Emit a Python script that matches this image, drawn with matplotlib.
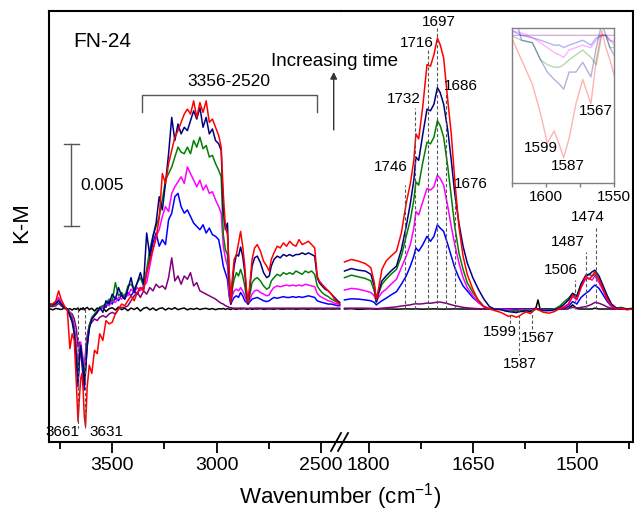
import numpy as np
import matplotlib.pyplot as plt
from matplotlib.ticker import MultipleLocator
from matplotlib.lines import Line2D

plt.rcParams['font.family'] = ['Liberation Sans', 'DejaVu Sans']
plt.rcParams['mathtext.default'] = 'regular'

# spectra, values in units of 1e-3 K-M
# left part (3800-2410 cm-1)
wn_l = [3800, 3785, 3770, 3757, 3745, 3730, 3715, 3703, 3692, 3682,
        3672, 3664, 3658, 3651, 3645, 3639, 3634, 3628, 3620, 3610,
        3598, 3585, 3572, 3560,
        3545, 3530, 3515, 3500, 3485, 3470, 3455, 3440, 3425, 3410,
        3395, 3380, 3365, 3350, 3335, 3320, 3305, 3290, 3275, 3260,
        3245, 3230, 3215, 3200, 3185, 3170, 3155, 3140, 3125, 3110,
        3095, 3080, 3065, 3050, 3035, 3020, 3005, 2990, 2978, 2968,
        2958, 2948, 2940, 2932, 2925, 2916, 2905, 2895, 2885, 2875,
        2865, 2857, 2849, 2840, 2830, 2818, 2805, 2790, 2775, 2760,
        2748, 2738, 2725, 2710, 2695, 2680, 2665, 2650, 2635, 2620,
        2605, 2590, 2575, 2560, 2545, 2530, 2518, 2508, 2495, 2480,
        2465, 2450, 2435, 2420, 2410]

black_l = [0.02, -0.05, 0.04, 0.0, -0.03, 0.05, -0.04, 0.02, -0.06, 0.03,
           -0.02, 0.06, -0.1, 0.04, -0.03, 0.08, -0.05, 0.03, 0.1, -0.04,
           0.05, -0.12, 0.06, -0.03,
           0.1, -0.15, 0.02, 0.08, -0.06, 0.12, -0.04, 0.05, -0.1, 0.06,
           -0.03, 0.08, -0.12, 0.04, 0.1, -0.05, 0.06, -0.08, 0.03, 0.07,
           -0.06, 0.05, -0.02, 0.08, -0.04, 0.02, 0.06, -0.05, 0.03, -0.02,
           0.05, -0.03, 0.02, 0.04, -0.02, 0.03, -0.04, 0.02, 0.0, 0.03,
           -0.02, 0.02, 0.0, -0.03, 0.02, 0.01, -0.02, 0.02, 0.0, 0.01,
           0.02, -0.01, 0.0, 0.02, -0.02, 0.01, 0.0, 0.02, -0.01, 0.0,
           0.01, 0.0, -0.01, 0.02, 0.0, -0.01, 0.01, 0.0, 0.01, -0.01,
           0.0, 0.01, 0.0, -0.01, 0.01, 0.0, 0.0, 0.01, 0.0, 0.0,
           0.01, 0.0, 0.0, 0.01, 0.0]

purple_l = [0.15, 0.15, 0.2, 0.35, 0.2, 0.05, 0.0, -0.2, -0.3, -0.6,
            -1.2, -2.3, -2.0, -2.6, -3.4, -4.2, -3.8, -2.6, -1.6, -1.0,
            -0.8, -0.6, -0.7, -0.5,
            -0.4, -0.5, -0.3, -0.2, -0.3, 0.0, 0.1, 0.1, 0.2, 0.5,
            0.8, 1.0, 0.7, 1.1, 0.9, 1.3, 1.1, 1.5, 1.3, 1.4,
            1.2, 1.9, 3.1, 1.7, 2.0, 1.5, 2.0, 1.8, 2.2, 1.4,
            1.6, 1.1, 1.0, 0.9, 0.8, 0.7, 0.6, 0.45, 0.35, 0.3,
            0.2, 0.15, 0.1, 0.08, 0.06, 0.05, 0.05, 0.05, 0.06, 0.05,
            0.05, 0.04, 0.04, 0.05, 0.05, 0.05, 0.06, 0.05, 0.05, 0.05,
            0.05, 0.05, 0.05, 0.05, 0.05, 0.05, 0.05, 0.05, 0.05, 0.05,
            0.05, 0.05, 0.05, 0.05, 0.05, 0.05, 0.05, 0.05, 0.05, 0.05,
            0.05, 0.05, 0.05, 0.05, 0.05]

blue_l = [0.3, 0.25, 0.35, 0.6, 0.35, 0.1, 0.0, -0.4, -0.7, -1.3,
          -3.0, -4.7, -3.2, -2.4, -3.1, -3.7, -4.9, -3.6, -2.3, -1.1,
          -0.6, -0.4, -0.2, 0.0,
          0.2, 0.1, 0.5, 0.3, 0.7, 0.5, 0.9, 0.6, 1.0, 0.8,
          1.1, 0.9, 1.3, 1.2, 2.2, 3.1, 4.0, 4.6, 3.8, 4.2,
          3.9, 5.4, 5.8, 6.8, 7.0, 6.2, 5.8, 6.0, 5.6, 5.2,
          5.0, 4.8, 5.1, 4.6, 4.9, 4.5, 4.4, 4.2, 3.4, 2.6,
          2.2, 1.8, 0.8, 0.3, 0.5, 0.7, 0.8, 0.7, 1.0, 0.8,
          0.5, 0.4, 0.3, 0.45, 0.6, 0.65, 0.7, 0.6, 0.5, 0.45,
          0.5, 0.6, 0.7, 0.65, 0.7, 0.75, 0.7, 0.7, 0.75, 0.7,
          0.75, 0.7, 0.75, 0.8, 0.75, 0.7, 0.5, 0.45, 0.4, 0.35,
          0.3, 0.3, 0.25, 0.2, 0.2]

magenta_l = [0.2, 0.3, 0.4, 0.7, 0.4, 0.1, 0.0, -0.2, -0.5, -1.0,
             -2.2, -3.4, -2.6, -2.0, -2.6, -3.0, -3.5, -2.9, -1.8, -1.0,
             -0.6, -0.4, -0.2, 0.0,
             0.1, 0.3, 0.2, 0.5, 0.4, 0.7, 0.6, 0.9, 0.8, 1.2,
             1.0, 1.3, 1.1, 1.4, 1.6, 2.6, 3.6, 4.4, 4.8, 5.6,
             6.2, 5.9, 7.0, 7.4, 7.7, 8.0, 7.6, 8.6, 8.2, 7.8,
             7.4, 7.8, 7.2, 7.5, 7.0, 7.1, 6.6, 6.2, 5.8, 3.8,
             3.1, 2.6, 1.0, 0.3, 0.8, 1.1, 1.2, 1.1, 1.3, 1.1,
             0.8, 0.5, 0.3, 0.6, 0.9, 1.1, 1.15, 1.0, 0.9, 0.8,
             0.85, 1.1, 1.3, 1.4, 1.35, 1.4, 1.45, 1.4, 1.45, 1.4,
             1.45, 1.4, 1.5, 1.45, 1.4, 1.35, 0.95, 0.8, 0.7, 0.6,
             0.5, 0.45, 0.35, 0.3, 0.25]

green_l = [0.2, 0.25, 0.3, 0.5, 0.3, 0.1, 0.0, -0.3, -0.6, -1.3,
           -2.6, -4.2, -3.0, -2.3, -2.9, -3.4, -4.1, -3.4, -2.0, -1.0,
           -0.5, -0.3, -0.1, 0.1,
           0.2, 0.3, 0.6, 0.5, 1.6, 0.8, 1.0, 0.7, 1.4, 1.5,
           1.2, 1.6, 1.9, 1.4, 2.4, 3.6, 4.4, 5.0, 5.6, 6.6,
           7.8, 8.2, 8.6, 9.2, 9.8, 9.5, 9.4, 9.8, 9.4, 10.2,
           9.8, 10.4, 9.7, 9.9, 9.2, 9.3, 8.8, 8.4, 8.0, 4.5,
           3.6, 3.3, 1.5, 0.4, 1.2, 1.8, 2.2, 2.0, 2.4, 2.0,
           1.4, 0.7, 0.3, 0.9, 1.6, 1.8, 1.9, 1.7, 1.4, 1.2,
           1.3, 1.7, 1.9, 2.1, 2.0, 2.2, 2.1, 2.2, 2.1, 2.3,
           2.2, 2.1, 2.3, 2.2, 2.3, 2.1, 1.4, 1.2, 1.0, 0.85,
           0.75, 0.6, 0.5, 0.4, 0.3]

navy_l = [0.3, 0.25, 0.35, 0.5, 0.3, 0.1, 0.0, -0.4, -0.8, -1.5,
          -3.0, -4.4, -3.0, -2.2, -3.0, -3.5, -4.6, -3.8, -2.2, -1.2,
          -0.6, -0.4, -0.2, 0.1,
          -0.2, 0.5, 0.3, 0.9, 0.6, 1.3, 0.8, 0.6, 1.2, 1.9,
          1.0, 1.6, 2.2, 1.5, 4.6, 3.2, 4.4, 5.2, 6.8, 6.0,
          7.6, 9.4, 11.6, 10.2, 11.2, 10.6, 11.0, 10.8, 11.4, 12.0,
          11.5, 12.2, 11.0, 11.6, 10.6, 10.9, 10.2, 10.0, 9.6, 6.0,
          4.8, 5.2, 2.0, 0.3, 1.5, 2.6, 3.3, 3.2, 3.75, 3.2,
          2.2, 1.0, 0.3, 1.4, 2.6, 3.1, 3.2, 2.8, 2.2, 1.9,
          2.0, 2.6, 3.0, 3.2, 3.1, 3.3, 3.2, 3.3, 3.2, 3.3,
          3.3, 3.4, 3.3, 3.4, 3.3, 3.2, 1.9, 1.6, 1.4, 1.2,
          1.1, 0.9, 0.7, 0.5, 0.4]

red_l = [0.3, 0.3, 0.5, 1.1, 0.6, 0.2, -0.1, -2.4, -1.5, -1.9,
         -4.5, -6.8, -5.5, -4.2, -3.9, -5.0, -6.5, -7.1, -4.7, -3.4,
         -3.9, -2.5, -2.7, -1.5,
         -1.9, -0.7, -0.9, -0.8, -0.3, 0.0, 0.3, 0.2, 0.5, 0.8,
         0.5, 1.0, 1.3, 1.1, 2.2, 2.9, 3.6, 4.3, 5.5, 8.2,
         7.6, 8.8, 9.6, 10.4, 10.8, 11.3, 11.8, 12.1, 11.8, 12.6,
         11.6, 12.5, 11.9, 12.6, 11.3, 11.5, 11.0, 10.5, 9.8, 7.0,
         5.0, 4.5, 2.4, 0.4, 1.8, 3.0, 3.3, 4.0, 4.7, 3.8,
         2.6, 1.2, 0.4, 1.6, 3.0, 3.7, 3.9, 3.5, 2.9, 2.6,
         2.3, 3.0, 3.4, 3.8, 3.7, 4.0, 3.8, 4.1, 3.9, 3.8,
         4.2, 3.9, 4.0, 4.1, 3.9, 3.7, 2.0, 1.7, 1.5, 1.3,
         1.1, 0.9, 0.6, 0.4, 0.3]

# right part (1835-1420 cm-1)
wn_r = [1835, 1825, 1815, 1805, 1797, 1792, 1789, 1786, 1781, 1775,
        1768, 1760, 1753, 1746, 1740, 1735, 1732, 1728, 1722, 1716,
        1711, 1706, 1701, 1697, 1692, 1686, 1681, 1676, 1670, 1664,
        1658, 1650, 1642, 1634, 1626, 1618, 1610, 1604, 1599, 1594,
        1590, 1587, 1583, 1578, 1573, 1567, 1563, 1559, 1556, 1553,
        1548, 1540, 1532, 1524, 1518, 1512, 1506, 1500, 1494, 1487,
        1482, 1478, 1474, 1468, 1462, 1456, 1450, 1443, 1436, 1428,
        1420]

black_r = [0.0, 0.02, -0.02, 0.0, 0.01, 0.0, -0.01, 0.0, 0.01, 0.0,
           0.0, -0.01, 0.0, 0.01, 0.0, 0.0, 0.01, 0.0, -0.01, 0.0,
           0.0, 0.01, 0.0, 0.0, -0.01, 0.0, 0.0, 0.01, 0.0, 0.0,
           0.0, 0.0, 0.0, 0.0, 0.0, 0.0, 0.0, 0.0, 0.0, 0.0,
           0.0, 0.0, 0.0, 0.0, 0.0, 0.0, 0.0, 0.05, 0.55, 0.0,
           0.0, 0.0, 0.0, 0.0, 0.0, 0.02, 0.25, 0.02, 0.0, 0.0,
           0.0, 0.0, 0.05, 0.0, 0.0, 0.0, 0.0, 0.0, 0.0, 0.0,
           0.0]

purple_r = [0.05, 0.05, 0.05, 0.05, 0.04, 0.03, 0.02, 0.03, 0.05, 0.07,
            0.1, 0.13, 0.18, 0.22, 0.25, 0.3, 0.32, 0.3, 0.32, 0.36,
            0.35, 0.38, 0.42, 0.42, 0.38, 0.32, 0.26, 0.2, 0.15, 0.1,
            0.07, 0.04, 0.02, 0.01, 0.0, 0.0, 0.0, 0.0, 0.0, 0.0,
            0.0, 0.0, 0.0, 0.0, 0.0, 0.0, 0.0, 0.0, 0.0, 0.0,
            0.0, 0.0, 0.0, 0.0, 0.02, 0.04, 0.1, 0.06, 0.1, 0.15,
            0.22, 0.3, 0.4, 0.35, 0.25, 0.12, 0.04, 0.0, 0.0, 0.0,
            0.0]

blue_r = [0.55, 0.62, 0.6, 0.55, 0.5, 0.4, 0.25, 0.35, 0.5, 0.65,
          0.85, 1.05, 1.5, 2.0, 2.6, 3.2, 3.7, 3.5, 3.9, 4.4,
          4.1, 4.4, 5.1, 4.9, 4.7, 3.9, 3.2, 2.5, 1.9, 1.4,
          1.1, 0.7, 0.4, 0.15, 0.02, 0.0, -0.01, -0.02, -0.03, -0.04,
          -0.04, -0.05, -0.04, -0.03, -0.02, -0.04, -0.01, 0.0, 0.0, -0.02,
          -0.03, -0.02, 0.0, 0.03, 0.08, 0.15, 0.45, 0.3, 0.7, 0.95,
          1.1, 1.3, 1.45, 1.25, 0.85, 0.45, 0.15, 0.02, 0.04, 0.0,
          0.0]

magenta_r = [1.15, 1.25, 1.2, 1.1, 1.0, 0.8, 0.45, 0.7, 1.0, 1.2,
             1.5, 1.8, 2.5, 3.2, 3.9, 4.9, 5.9, 5.7, 6.5, 7.3,
             7.2, 7.4, 8.1, 7.9, 7.5, 6.2, 5.0, 3.9, 2.8, 1.9,
             1.3, 0.8, 0.4, 0.15, 0.02, 0.01, -0.01, -0.03, -0.05, -0.07,
             -0.08, -0.09, -0.06, -0.05, -0.04, -0.05, -0.02, 0.0, 0.0, -0.02,
             -0.05, -0.05, 0.0, 0.05, 0.15, 0.3, 0.75, 0.55, 1.3, 1.85,
             1.85, 1.75, 2.0, 1.6, 1.1, 0.55, 0.2, 0.03, 0.05, 0.0,
             0.0]

green_r = [1.9, 2.05, 1.95, 1.85, 1.7, 1.1, 0.4, 0.9, 1.5, 1.8,
           2.1, 2.4, 3.2, 4.4, 5.4, 6.6, 7.7, 7.5, 8.9, 10.1,
           10.0, 10.4, 11.4, 11.1, 10.4, 8.6, 6.8, 5.0, 3.4, 2.4,
           1.6, 1.0, 0.55, 0.15, 0.0, -0.02, -0.03, -0.1, -0.12, -0.13,
           -0.13, -0.12, -0.1, -0.08, -0.06, -0.09, -0.12, 0.0, 0.0, -0.05,
           -0.05, -0.05, 0.0, 0.2, 0.45, 0.65, 0.95, 0.8, 1.5, 2.0,
           2.1, 2.0, 2.1, 1.8, 1.2, 0.65, 0.25, 0.05, 0.1, 0.0,
           0.05]

navy_r = [2.3, 2.45, 2.35, 2.3, 2.1, 1.4, 0.45, 1.0, 1.7, 2.0,
          2.3, 2.6, 3.6, 5.0, 6.4, 7.8, 9.2, 9.0, 10.6, 12.1,
          12.0, 12.4, 13.4, 13.1, 12.4, 10.8, 9.0, 7.0, 5.2, 3.8,
          2.8, 1.9, 1.2, 0.6, 0.15, -0.02, -0.03, -0.1, -0.15, -0.18,
          -0.2, -0.22, -0.15, -0.15, -0.11, -0.17, -0.05, 0.05, 0.0, -0.05,
          -0.1, -0.1, -0.05, 0.1, 0.3, 0.55, 0.95, 0.75, 1.5, 2.05,
          2.1, 2.25, 2.35, 2.0, 1.4, 0.8, 0.3, 0.05, 0.05, 0.0,
          0.0]

red_r = [2.85, 3.0, 2.9, 2.75, 2.5, 1.6, 0.55, 1.2, 2.4, 2.9,
         3.2, 3.5, 4.6, 6.4, 7.6, 9.0, 10.6, 10.3, 12.3, 14.8,
         14.7, 15.4, 16.4, 16.0, 15.2, 12.6, 10.6, 7.8, 5.0, 3.2,
         2.1, 1.2, 0.5, 0.15, 0.0, -0.1, -0.2, -0.32, -0.44, -0.39,
         -0.45, -0.5, -0.42, -0.28, -0.18, -0.28, -0.1, 0.02, -0.05, -0.1,
         -0.2, -0.25, -0.15, 0.05, 0.1, 0.3, 0.85, 0.6, 1.3, 2.0,
         1.8, 2.0, 2.25, 1.8, 1.2, 0.6, 0.2, 0.0, 0.05, -0.05,
         0.0]

colors = ['#000000', '#800080', '#0000FF', '#FF00FF', '#008000', '#000080', '#FF0000']
left_sets = [black_l, purple_l, blue_l, magenta_l, green_l, navy_l, red_l]
right_sets = [black_r, purple_r, blue_r, magenta_r, green_r, navy_r, red_r]

# peak markers
up_pos = [1748, 1733, 1715, 1701, 1688, 1675]
up_top = [0.00751, 0.01217, 0.01568, 0.01701, 0.01307, 0.00708]
up_txt = ['1746', '1732', '1716', '1697', '1686', '1676']
up_lab = [(1768, 0.00857), (1750, 0.01271), (1731, 0.01613),
          (1699.5, 0.0174), (1667.7, 0.01353), (1653.3, 0.00757)]
low_pos = [1503, 1487, 1472]
low_top = [0.00176, 0.00345, 0.00496]
low_txt = ['1506', '1487', '1474']
low_lab = [(1523.5, 0.00236), (1513.4, 0.00406), (1484.5, 0.00557)]
neg_pos = [1596, 1584, 1565]
neg_bot = [-0.00097, -0.00278, -0.00127]
neg_txt = ['1599', '1587', '1567']
neg_lab = [(1611.5, -0.00139), (1582.6, -0.0033), (1556.7, -0.00173)]

W, H = 634, 512
fig = plt.figure(figsize=(W / 100, H / 100), dpi=100)

axl = fig.add_axes([49 / W, 70 / H, 292 / W, 431 / H])
axr = fig.add_axes([341 / W, 70 / H, 292 / W, 431 / H])

for ax in (axl, axr):
    ax.set_ylim(-0.00805, 0.01804)
    ax.set_yticks([])
    ax.patch.set_visible(False)
    for s in ax.spines.values():
        s.set_linewidth(1.5)
    ax.tick_params(axis='x', which='major', direction='out', length=8, width=1.3,
                   labelsize=14, pad=3)
    ax.tick_params(axis='x', which='minor', direction='out', length=5, width=1.3)
axl.spines['right'].set_visible(False)
axr.spines['left'].set_visible(False)
axl.set_xlim(3803, 2404)
axr.set_xlim(1840, 1419)
axl.xaxis.set_major_locator(MultipleLocator(500))
axl.xaxis.set_minor_locator(MultipleLocator(250))
axr.xaxis.set_major_locator(MultipleLocator(150))
axr.xaxis.set_minor_locator(MultipleLocator(75))

for c, yl, yr in zip(colors, left_sets, right_sets):
    axl.plot(wn_l, np.array(yl) * 1e-3, color=c, lw=1.1)
    axr.plot(wn_r, np.array(yr) * 1e-3, color=c, lw=1.1)

dash = dict(color='#555555', lw=0.8, ls=(0, (3, 2)), zorder=4)
for p, t in zip(up_pos + low_pos, up_top + low_top):
    axr.plot([p, p], [0, t], **dash)
for p, b in zip(neg_pos, neg_bot):
    axr.plot([p, p], [0, b], **dash)
for t, (x, y) in zip(up_txt + low_txt + neg_txt, up_lab + low_lab + neg_lab):
    axr.text(x, y, t, ha='center', va='center', fontsize=11)

# O-H dips
axl.plot([3663, 3663], [0, -0.0072], **dash)
axl.plot([3631, 3631], [0, -0.0072], **dash)
axl.text(3740, -0.00745, '3661', ha='center', va='center', fontsize=11)
axl.text(3529, -0.00745, '3631', ha='center', va='center', fontsize=11)

axl.text(0.1815, 0.93, 'FN-24', transform=axl.transAxes, ha='center', va='center',
         fontsize=15)

# bracket
axl.plot([3356, 3356, 2520, 2520], [0.01192, 0.01295, 0.01295, 0.01192],
         color='#555555', lw=1)
axl.text(2942, 0.0138, '3356-2520', ha='center', va='center', fontsize=12.5)

# scale bar
axl.plot([3697, 3697], [0.005, 0.010], color='#555555', lw=1)
axl.plot([3731, 3659], [0.005, 0.005], color='#555555', lw=1)
axl.plot([3731, 3659], [0.010, 0.010], color='#555555', lw=1)
axl.text(3654, 0.00745, '0.005', ha='left', va='center', fontsize=12.5)

axl.annotate('', xy=(2439, 0.01435), xytext=(2439, 0.01084),
             arrowprops=dict(arrowstyle='-|>', color='#333333', lw=1.0,
                             mutation_scale=10, shrinkA=0, shrinkB=0))
fig.text(271 / W, 1 - 61 / H, 'Increasing time', ha='left', va='center', fontsize=13.5)

fig.text(22 / W, 1 - 223 / H, 'K-M', rotation=90, ha='center', va='center', fontsize=16)
fig.text(340 / W, 1 - 503 / H, 'Wavenumber (cm$^{-1}$)', ha='center', va='baseline',
         fontsize=16)

# axis break marks
for x0 in (331, 338):
    fig.add_artist(Line2D([x0 / W, (x0 + 10) / W], [1 - 451 / H, 1 - 433 / H],
                          color='black', lw=1.3))

# inset
axin = fig.add_axes([512 / W, 1 - 183 / H, 102 / W, 155 / H])
for c, yr in zip(colors[1:], right_sets[1:]):
    axin.plot(wn_r, np.array(yr) * 1e-3, color=c, lw=1, alpha=0.3)
axin.set_xlim(1625, 1550)
axin.set_ylim(-0.000603, 0.00003)
axin.set_yticks([])
axin.xaxis.set_major_locator(MultipleLocator(50))
axin.xaxis.set_minor_locator(MultipleLocator(25))
axin.tick_params(axis='x', which='both', direction='out', length=3, width=1,
                 color='#808080', labelsize=11, pad=2)
for s in axin.spines.values():
    s.set_color('#808080')
    s.set_linewidth(1)
axin.text(1604, -0.00046, '1599', ha='center', va='center', fontsize=11)
axin.text(1584.2, -0.000535, '1587', ha='center', va='center', fontsize=11)
axin.text(1563.2, -0.000311, '1567', ha='center', va='center', fontsize=11)

fig.savefig('out.png', dpi=100)
